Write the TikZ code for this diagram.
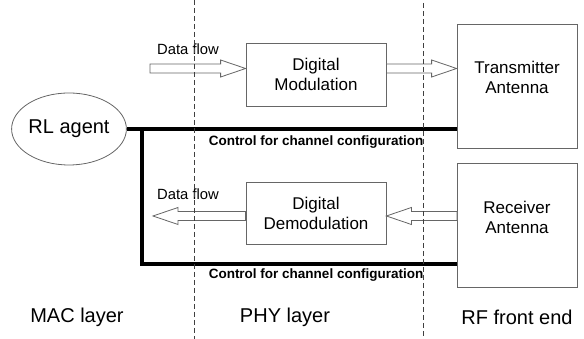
\documentclass[tikz,border=0pt]{standalone}
\usepackage{fontspec}
\setmainfont{Liberation Sans}
\usetikzlibrary{calc,shapes.geometric}

% hollow block arrow: tail, tip, signed offset of the head base
\newcommand{\flowarrow}[3]{%
\draw[flowline] ($(#1)+(0,4.5)$) -- ($(#2)+(#3,4.5)$) -- ($(#2)+(#3,8.5)$) -- (#2)
  -- ($(#2)+(#3,-8.5)$) -- ($(#2)+(#3,-4.5)$) -- ($(#1)+(0,-4.5)$) -- cycle;}

\begin{document}
\begin{tikzpicture}[x=1pt,y=1pt,
  box/.style={draw=black!60,line width=0.8pt,inner sep=0pt,align=center,
    font=\fontsize{17}{20}\selectfont},
  boxtext/.style={align=center,inner sep=0pt,font=\fontsize{17}{20}\selectfont},
  flowline/.style={draw=black!60,line width=0.8pt,fill=white,line join=miter},
  flowtext/.style={inner sep=0pt,font=\fontsize{14.8}{17}\selectfont},
  ctrl/.style={line width=3.6pt},
  ctrltext/.style={inner sep=0pt,font=\fontsize{13.5}{16}\selectfont\bfseries},
  layer/.style={inner sep=0pt,font=\fontsize{20}{24}\selectfont},
  divider/.style={draw=black!75,line width=0.8pt,dash pattern=on 5pt off 3pt}]
\useasboundingbox (0,0) rectangle (584,339);

\node[ellipse,draw=black!60,line width=0.8pt,minimum width=110pt,minimum height=72pt,
  inner sep=0pt,font=\fontsize{20}{24}\selectfont] (agent) at (69,210) {RL agent};

\node[box,minimum width=140pt,minimum height=63pt] (mod) at (316,264.5) {Digital\\Modulation};
\node[box,minimum width=140pt,minimum height=62pt] (demod) at (316,126) {Digital\\Demodulation};

\node[box,minimum width=120pt,minimum height=124pt] (tx) at (517,253) {};
\node[boxtext] (txtext) at ([yshift=8.5pt]tx.center) {Transmitter\\Antenna};
\node[box,minimum width=120pt,minimum height=124pt] (rx) at (517,114) {};
\node[boxtext] (rxtext) at ([yshift=8pt]rx.center) {Receiver\\Antenna};

% data flow
\coordinate (macout) at (150,270.5);
\coordinate (modin) at (mod.west |- macout);
\coordinate (modout) at (mod.east |- macout);
\coordinate (txin) at (tx.west |- macout);
\flowarrow{macout}{modin}{-25}
\flowarrow{modout}{txin}{-25}

\coordinate (rxout) at (457,123);
\coordinate (demodin) at (demod.east |- rxout);
\coordinate (demodout) at (demod.west |- rxout);
\coordinate (macin) at (153,123);
\flowarrow{rxout}{demodin}{25}
\flowarrow{demodout}{macin}{25}

\node[flowtext] (dftop) at (188,290) {Data flow};
\node[flowtext] (dfbot) at (188,145) {Data flow};

% control lines
\coordinate (cbend) at (142,75);
\draw[ctrl] (agent.east) -- (tx.west |- agent.east);
\draw[ctrl] (cbend |- agent.east) -- (cbend) -- (rx.west |- cbend);
\node[ctrltext] (ctrltop) at (316,197) {Control for channel configuration};
\node[ctrltext] (ctrlbot) at (316,64) {Control for channel configuration};

\node[layer] (mac) at (77,22) {MAC layer};
\node[layer] (phy) at (285,22) {PHY layer};
\node[layer] (rf) at (517,22) {RF front end};

% layer boundaries
\draw[divider] (194,339) -- (194,0);
\draw[divider] (423,336) -- (423,0);

\end{tikzpicture}
\end{document}
